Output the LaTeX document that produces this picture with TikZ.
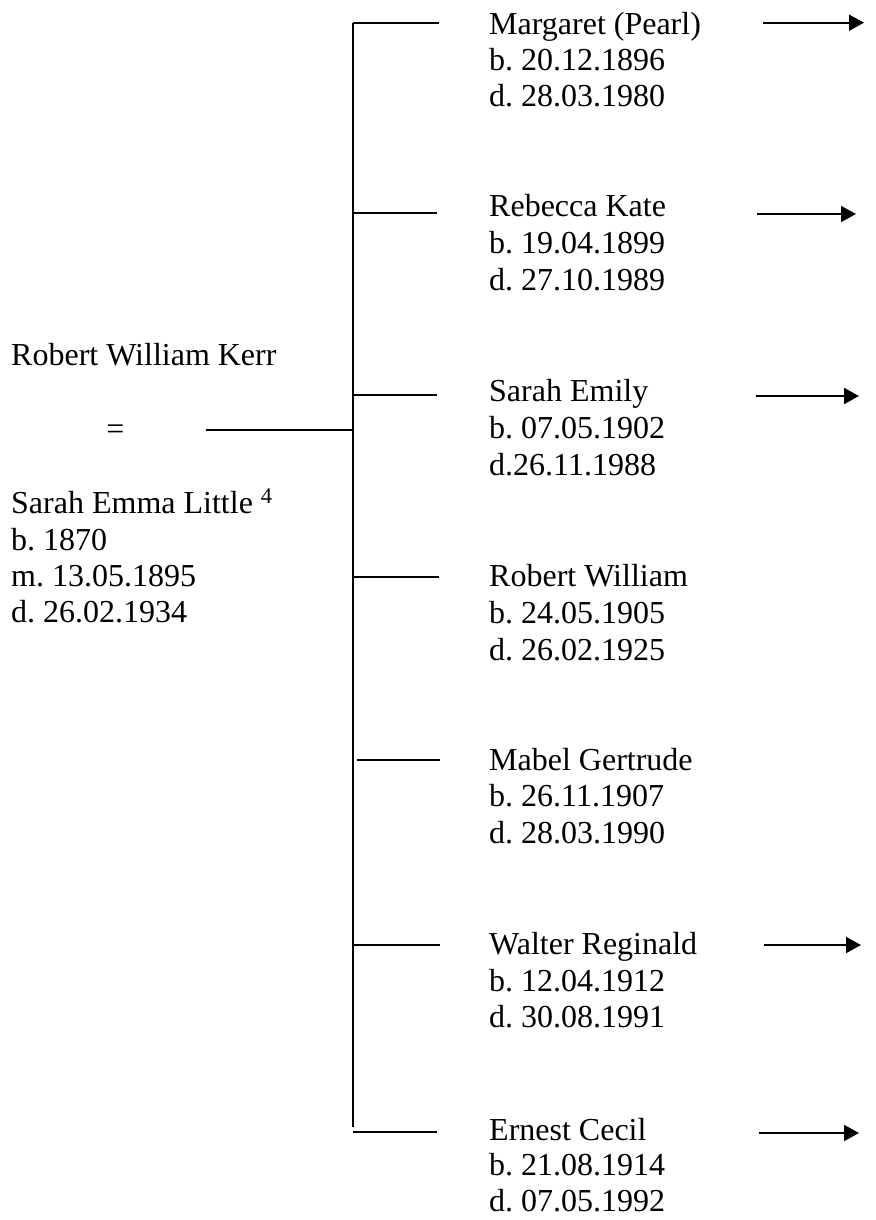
\documentclass[tikz,border=0pt]{standalone}
\usepackage{fontspec}
\setmainfont{Liberation Serif}
\usetikzlibrary{arrows.meta}
\frenchspacing
\begin{document}
\begin{tikzpicture}[x=1pt,y=-1pt,
  txt/.style={anchor=base west,inner sep=0pt,font=\fontsize{32}{37}\selectfont},
  rule/.style={line width=1.9pt},
  onward/.style={line width=1.9pt,-{Triangle[length=15pt,width=16pt]}}]
\useasboundingbox (0,0) rectangle (875,1220);

% the parents
\node[txt] (father) at (11,365) {Robert William Kerr};
\node[txt,anchor=base] (married) at (115.5,439) {=};
\node[txt] (mother) at (11,513) {Sarah Emma Little \textsuperscript{4}};
\node[txt] (motherb) at (11,550) {b. 1870};
\node[txt] (motherm) at (11,586.5) {m. 13.05.1895};
\node[txt] (motherd) at (11,622) {d. 26.02.1934};

% marriage line and the bar of children
\coordinate (union) at (206,430);
\coordinate (bar) at (353,430);
\draw[rule] (union) -- (bar);
\coordinate (bartop) at (353,22.7);
\coordinate (barbottom) at (353,1127);
\draw[rule] (bartop) -- (barbottom);

% children: number / branch y / branch start / branch end / baselines / texts
\foreach \i/\by/\bs/\be/\na/\nb/\nd/\name/\born/\died in {
  1/22.7/353/439/35/70.5/107/{Margaret (Pearl)}/{b. 20.12.1896}/{d. 28.03.1980},
  2/213.3/353/437/216.7/253/290/{Rebecca Kate}/{b. 19.04.1899}/{d. 27.10.1989},
  3/395/353/437/401.5/438/475/{Sarah Emily}/{b. 07.05.1902}/{d.26.11.1988},
  4/577.3/353/439/586.7/623/660/{Robert William}/{b. 24.05.1905}/{d. 26.02.1925},
  5/760/357/440/770/806.7/843.3/{Mabel Gertrude}/{b. 26.11.1907}/{d. 28.03.1990},
  6/945/353/440/954/991/1027.5/{Walter Reginald}/{b. 12.04.1912}/{d. 30.08.1991},
  7/1132/353/437/1140/1175/1211.7/{Ernest Cecil}/{b. 21.08.1914}/{d. 07.05.1992}}
{
  \coordinate (branch\i) at (\bs,\by);
  \coordinate (twig\i) at (\be,\by);
  \draw[rule] (branch\i) -- (twig\i);
  \node[txt] (child\i) at (489,\na) {\name};
  \node[txt] (born\i) at (489,\nb) {\born};
  \node[txt] (died\i) at (489,\nd) {\died};
}

% lines carried on to later generations
\foreach \i/\ay/\as/\ae in {1/22.7/763/864, 2/214/757/856, 3/396/756/859,
                            6/945/764/861, 7/1133/759/859}
{
  \coordinate (onfrom\i) at (\as,\ay);
  \coordinate (onto\i) at (\ae,\ay);
  \draw[onward] (onfrom\i) -- (onto\i);
}
\end{tikzpicture}
\end{document}
